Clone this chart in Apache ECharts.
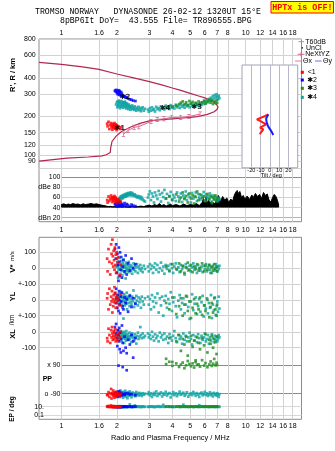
<!DOCTYPE html>
<html>
<head>
<meta charset="utf-8">
<script src="https://cdn.jsdelivr.net/npm/echarts@6/dist/echarts.min.js"></script>
<style>
html,body{margin:0;padding:0;background:#fff}
#c{width:335px;height:451px}
</style>
</head>
<body>
<div id="c"></div>
<script>
// ---- Header text ----
const headerLine1 = 'TROMSO NORWAY   DYNASONDE 26-02-12 1320UT 15\u00B0E';
const headerLine2 = '8pBP6It DoY=  43.555 File= TR896555.BPG';

// ---- Axis ticks ----
const freqTicks = [1, 1.6, 2, 3, 4, 5, 6, 7, 8, 10, 12, 14, 16, 18];
const midFreqTicks = [1, 1.6, 2, 3, 4, 5, 6, 7, 8, 9, 10, 12, 14, 16, 18];
const rangeTicks = [80, 90, 100, 120, 150, 200, 300, 400, 600, 800];
const tiltTicks = [-20, -10, 0, 10, 20];
const vstarTicks = [-100, 0, 100];
const locTicks = [-100, 0];
const ppTicks = [-90, 90];
const epTicks = [0.1, 10];

// ---- Profile curve (MHz, km) ----
const curveFreq = [0.755, 1.0, 1.3, 1.6, 2.0, 2.5, 3.0, 3.5, 4.0, 4.4, 5.0, 5.5, 6.0, 6.4, 6.75, 6.95, 7.08, 7.0, 6.75, 6.2, 5.45, 5.0, 4.4, 4.0, 3.5, 3.0, 2.67, 2.36, 2.12, 1.98, 1.88, 1.86, 1.85, 1.84, 1.75, 1.66, 1.4, 1.07, 0.9, 0.755];
const curveRange = [527, 509, 486, 465, 428, 398, 373, 352, 333, 321, 303, 290, 279, 269, 256, 247, 238, 228, 218, 208, 200, 197, 194, 192, 189, 185, 177, 165, 153, 141, 128, 124, 114, 105, 101, 99, 97, 95, 92.5, 90];

// ---- NeXtYZ real-height trace ----
const nextFreq = [2.17, 2.30, 2.48, 2.63, 3.06, 3.31, 3.60, 3.96, 4.43, 4.92, 5.66];
const nextRange = [146, 156, 165, 167, 183, 190, 192, 197, 197, 200, 209];

// ---- Tilt profiles (deg, km) ----
const tiltXDeg = [-1.7, -5, -14, -10.6, -4, -10.6, -7, -11];
const tiltXRange = [208, 202, 190, 185, 174, 164, 159, 146];
const tiltYDeg = [-1.7, -4, -3.4, -1.7, 2, 3.7];
const tiltYRange = [208, 193, 179, 167, 152, 144];

// ---- Noise level (MHz, dB) ----
const noiseFreq = [1.00,1.03,1.06,1.09,1.12,1.15,1.19,1.23,1.27,1.31,1.35,1.40,1.45,1.50,1.55,1.60,1.65,1.70,
  1.75,1.80,1.85,1.90,1.95,2.00,2.05,2.10,
  2.20,2.30,2.40,2.50,2.60,2.70,2.80,2.90,
  3.00,3.10,3.20,3.30,3.40,3.50,3.60,3.70,3.80,3.90,4.00,
  4.20,4.40,4.60,4.80,5.00,5.20,5.40,5.60,5.80,
  5.90,6.00,6.10,6.20,6.30,6.40,6.50,6.60,6.70,6.80,6.90,7.00,7.10,7.20,
  7.30,7.50,7.70,7.90,8.10,8.30,8.50,8.70,8.90,9.00,
  9.10,9.30,9.50,9.70,9.90,
  10.2,10.5,10.8,11.0,11.3,11.6,11.9,12.2,12.5,12.8,13.1,13.4,13.7,14.0,14.3,14.6,14.9,15.1];
const noiseDb = [46,47.5,45.5,47,46,48,46.5,47,45.5,47.5,46,47,48,46.5,47.5,46,45,44,
  43,42,42.5,41.5,42,41,42,41.5,
  42,41,42.5,41.5,42,43,42,44,
  45,43,46,44,48,44,46,43,45,47,44,
  46,43,47,44,46,45,48,44,50,
  58,46,62,48,55,47,52,46,50,47,53,58,64,60,
  52,62,55,59,50,57,53,66,72,74,
  68,72,60,64,57,
  63,56,65,60,68,62,66,58,70,64,67,55,51,60,66,62,54,45];

// ---- Echoes: [freq MHz, range km, V* m/s, YL km, XL km, PP deg, EP deg, amplitude dB] ----
const redEchoes = [
  [1.77,176,60,10,-40,-95,12,55],[1.78,168,-20,40,-60,-100,9,50],[1.80,182,120,-60,20,-80,15,62],
  [1.82,160,40,70,-20,-110,10,53],[1.84,172,-40,-30,-70,-88,8,58],[1.86,178,150,20,10,-60,20,64],
  [1.87,165,90,-10,-35,-120,11,56],[1.88,170,30,55,30,-92,9,60],[1.89,158,180,-80,-10,-85,13,51],
  [1.90,175,75,5,-50,-98,10,59],[1.91,168,10,-40,-25,-70,7,54],[1.92,163,110,30,5,-105,12,61],
  [1.93,172,50,-15,-45,-90,9,57],[1.94,178,-10,80,-5,-115,14,63],[1.95,166,130,0,-30,-82,10,52],
  [1.96,161,20,45,15,-95,8,58],[1.97,174,85,-50,-60,-100,11,60],[1.98,169,-30,15,-15,-78,9,55],
  [1.99,157,100,-20,-40,-108,12,49],[2.00,171,60,25,-20,-92,10,57],[2.02,164,35,-5,-55,-86,9,53],
  [2.04,168,70,10,-10,-96,11,56],[2.07,160,-45,-35,-35,-102,8,50],[2.10,165,20,35,0,-90,10,52]
];
const blueEchoes = [
  [1.95,318,120,40,30,-85,10,47],[1.97,312,60,-20,-10,-95,9,45],[1.98,322,150,70,50,-100,12,49],
  [2.00,305,-30,10,-40,-80,8,44],[2.01,315,90,-50,-90,-110,11,48],[2.02,298,20,30,10,-92,10,46],
  [2.04,320,-80,-70,-20,86,9,50],[2.05,308,130,0,-60,-98,10,43],[2.06,295,40,55,25,-75,12,47],
  [2.07,316,-50,-30,-110,-105,9,45],[2.08,302,100,-85,-5,-90,10,51],[2.10,290,-10,20,-130,-95,8,44],
  [2.11,310,70,-10,-45,-85,11,48],[2.13,300,-60,45,40,-100,10,46],[2.15,292,10,-40,-70,77,9,43],
  [2.17,285,50,-60,-120,-92,10,45],[2.20,288,-20,15,-30,-97,11,49],[2.23,280,80,-20,-100,-88,10,44],
  [2.26,283,-40,5,-135,57,9,47],[2.30,276,30,-75,-50,-88,10,45],[2.35,272,-15,25,-80,-94,12,42],
  [2.40,270,60,-45,-20,-93,9,46],[2.45,266,0,10,-60,136,10,44],[2.52,264,25,-25,-40,-99,11,43]
];
const greenEchoes = [
  [3.70,236,10,-20,-170,95,10,58],[3.85,240,-15,-60,-40,110,11,62],[4.00,238,25,15,-190,85,9,55],
  [4.20,243,-5,-90,-60,100,10,66],[4.35,250,30,-40,-20,78,12,52],[4.45,256,-20,10,-120,92,9,60],
  [4.55,262,15,-100,-45,105,10,70],[4.65,248,-30,-30,-80,70,11,57],[4.75,258,5,25,-30,88,10,63],
  [4.85,245,35,-70,-150,115,9,50],[4.95,264,-10,-10,-60,96,10,68],[5.05,252,20,-115,-25,82,12,58],
  [5.15,260,-25,-50,-95,100,10,64],[5.25,242,10,5,-55,74,9,48],[5.35,255,-5,-85,-180,108,11,61],
  [5.45,247,25,-25,-35,90,10,72],[5.55,262,-15,-60,-70,94,10,55],[5.65,250,0,15,-110,80,9,66],
  [5.80,258,30,-95,-40,120,11,59],[5.95,266,-20,-35,-85,86,10,62],[6.05,252,15,-70,-15,102,12,53],
  [6.20,262,-10,0,-130,76,10,67],[6.35,270,20,-110,-50,93,9,57],[6.45,256,-30,-45,-75,112,10,63],
  [6.55,266,5,-20,-25,84,11,49],[6.65,250,-15,-80,-100,98,10,60],[6.75,262,25,10,-45,128,9,56],
  [6.85,258,-5,-60,-65,88,10,64],[6.95,268,10,-100,-140,104,11,52],[7.00,255,-20,-30,-30,90,10,58]
];
const cyanEchoes = [
  [1.98,248,10,5,-20,-88,9,50],[2.00,258,-25,20,-5,-95,10,52],[2.01,236,40,-15,-35,-80,11,49],
  [2.02,262,5,30,-15,-102,8,54],[2.03,244,-60,-5,-40,-90,12,51],[2.04,252,20,15,10,-75,9,56],
  [2.05,266,-10,-25,-25,-98,10,53],[2.06,240,65,40,-50,-85,14,58],[2.07,255,-5,0,-10,-110,9,55],
  [2.08,232,25,-20,-30,-92,10,60],[2.09,260,-35,25,-45,-70,8,57],[2.10,247,10,-10,5,-100,11,62],
  [2.11,238,45,50,-20,-88,10,59],[2.12,264,-15,-30,-60,-95,9,61],[2.13,250,15,10,-5,-82,13,63],
  [2.14,242,-45,-50,-35,-105,10,58],[2.15,256,30,20,-25,-90,9,64],[2.16,234,0,-5,-15,-115,11,60],
  [2.17,258,55,-118,-40,-78,10,62],[2.18,245,-20,35,0,-93,8,65],[2.19,253,5,-15,-70,-100,12,61],
  [2.20,237,20,5,-30,-86,10,63],[2.21,261,-30,-35,-10,-96,9,66],[2.22,249,10,25,-45,-72,11,64],
  [2.23,240,-65,-10,-20,-108,10,62],[2.24,255,35,15,-55,-91,13,67],[2.25,231,0,-25,5,-84,9,65],
  [2.26,246,-10,45,-30,-99,10,63],[2.27,252,25,-60,-40,-89,12,68],[2.28,236,-20,0,-15,-118,9,66],
  [2.30,243,15,20,-35,-94,10,64],[2.31,228,-5,-20,-50,-80,11,69],[2.32,248,40,10,-25,-103,9,67],
  [2.34,235,-25,-40,-5,-90,10,65],[2.35,241,5,30,-45,-76,35,68],[2.37,226,20,-15,-30,-97,10,70],
  [2.39,238,-15,5,-65,-87,9,66],[2.40,232,10,-30,-20,-112,12,64],[2.42,244,-35,20,-10,-92,10,69],
  [2.44,229,0,-10,-40,-83,8,67],[2.46,236,30,59,-30,-100,11,65],[2.48,225,-10,-45,-55,-95,10,63],
  [2.50,240,15,10,-15,-88,20,66],[2.52,230,-20,-20,-35,-106,9,64],[2.55,222,5,25,-74,-79,10,62],
  [2.57,234,25,-5,-25,-94,12,60],[2.60,227,-30,-35,-5,-90,10,63],[2.62,238,10,15,-45,-101,9,61],
  [2.65,224,-5,-15,-30,-85,11,59],[2.68,233,20,5,30,-97,10,62],[2.70,220,-15,-50,-20,-91,8,57],
  [2.73,229,0,20,-40,-104,10,60],[2.76,236,-25,-10,-10,-87,12,56],[2.80,222,15,-30,-35,-96,9,54],
  [2.84,230,-5,10,-25,-90,10,52],
  [2.95,226,10,20,-10,-92,10,60],[2.98,218,-20,-30,-35,-80,9,66],[3.02,232,25,5,-20,-100,11,72],
  [3.06,222,-5,-60,-45,-88,10,55],[3.10,236,15,30,0,-110,12,68],[3.14,225,-30,-10,-30,-95,9,62],
  [3.18,229,5,-45,-55,-85,10,50],[3.22,219,30,15,-15,-98,8,70],[3.27,238,-10,-20,-40,-76,11,64],
  [3.32,228,20,40,-25,-104,10,57],[3.37,233,-25,-80,-60,-90,13,73],[3.42,224,0,10,-5,-93,9,66],
  [3.47,240,35,-35,-35,-82,10,52],[3.52,230,-15,20,-20,-107,10,69],[3.57,235,10,-100,-50,-89,28,61],
  [3.62,227,-35,-5,-10,-96,9,75],[3.68,243,20,25,-45,-78,11,58],[3.74,232,-5,-50,-30,-101,10,67],
  [3.80,238,15,5,-70,-91,12,49],[3.86,229,-20,-25,-15,-86,9,63],[3.92,245,25,48,-35,-113,10,71],
  [3.98,234,0,-70,-55,-94,11,56],[4.04,240,-30,-15,-25,-80,10,65],[4.10,231,10,15,5,-99,9,60],
  [4.17,247,30,-40,-40,-88,10,53],[4.24,236,-10,-110,-65,-105,12,70],[4.31,242,5,-5,-20,-92,10,62],
  [4.38,233,-25,30,-45,-77,9,57],[4.45,248,20,-60,-30,-97,11,68],[4.52,238,-5,-20,-75,-90,10,51],
  [4.59,244,10,10,-10,-84,30,64],[4.66,234,-40,-85,-50,-102,9,59],[4.73,250,25,-30,-25,-93,10,72],
  [4.80,240,0,20,-60,-81,11,55],[4.88,246,-15,-45,-35,-108,10,66],[4.96,236,15,-120,-5,-95,9,61],
  [5.04,252,-20,-10,-45,-87,12,50],[5.12,242,5,35,-80,-99,10,69],[5.20,248,30,-65,-20,-79,9,58],
  [5.28,238,-10,-25,-55,-91,10,63],[5.36,254,10,15,-30,-103,11,70],[5.44,244,-30,-90,-65,-86,10,53],
  [5.52,250,20,-40,-15,-96,9,67],[5.60,240,0,5,-40,-110,22,60],[5.68,256,-15,-75,-70,-89,10,56],
  [5.76,246,10,-15,-25,-83,11,65],[5.84,258,-25,25,-50,-100,10,62],[5.92,250,15,-105,-35,-92,9,71],
  [6.00,262,-5,-35,-10,-78,10,54],[6.08,254,25,-55,-60,-97,12,66],[6.16,268,-20,10,-45,-88,10,59],
  [6.24,258,5,-85,-20,-104,9,63],[6.32,274,20,-20,-75,-94,10,57],[6.40,264,-10,-50,-35,-81,11,68],
  [6.48,280,10,30,-55,-99,10,61],[6.56,270,-30,-115,-15,-90,9,52],[6.64,288,15,-30,-40,-107,10,64],
  [6.72,276,0,-65,-65,-85,12,58],[6.80,294,-15,15,-25,-96,10,62],[6.88,282,25,-95,-50,-91,9,55],
  [6.96,298,5,-40,-30,-102,10,60],[7.02,286,-20,-10,-60,-87,11,57],[7.08,272,10,-75,-45,-95,10,53],
  [7.14,290,-5,20,-20,-110,9,59],[7.20,278,15,-55,-35,-93,10,56]
];

// ---- Cluster centroids (MHz, km, id) ----
const clusterFreq = [2.07, 2.21, 5.42, 3.65];
const clusterRange = [163, 281, 238, 233];
const clusterId = ['1', '2', '3', '4'];

// ---- Layout ----
const FONT = '"Liberation Sans", "DejaVu Sans", sans-serif';
const FMIN = 0.755, FMAX = 20.1;
const FRAME_L = 39, FRAME_W = 262.5;
const PX_PER_DEC = FRAME_W / Math.log10(FMAX / FMIN);
const INNER_L = 61.5;
const FMIN_INNER = FMIN * Math.pow(10, (INNER_L - FRAME_L) / PX_PER_DEC);
const RANGE_TOP = 39, RANGE_PX_PER_DEC = 128.8;
const TILT_TOP = 65;
const TILT_RMAX = 800 / Math.pow(10, (TILT_TOP - RANGE_TOP) / RANGE_PX_PER_DEC);
const TILT_H = RANGE_PX_PER_DEC * Math.log10(TILT_RMAX / 80);
const NOISE_BASE = 41;
const DOT = 2.7;

const GRID_C = '#d2d2d2';
const FRAME_C = '#8c8c8c';

function freqLabel(v) {
  const t = midFreqTicks.find(x => Math.abs(x - v) < 1e-6 * x);
  return t === undefined ? '' : String(t);
}
function hiddenFreq(gridIndex, min) {
  return {gridIndex, type: 'log', logBase: 10, min: min, max: FMAX, show: false};
}
function labelStyle(extra) {
  return Object.assign({fontSize: 7, color: '#000', fontFamily: FONT}, extra || {});
}

const grids = [
  {left: FRAME_L, top: 39, width: FRAME_W, height: 182.7, show: true, borderColor: FRAME_C, borderWidth: 1},
  {left: FRAME_L, top: RANGE_TOP, width: FRAME_W, height: RANGE_PX_PER_DEC},
  {left: INNER_L, top: 177.3, width: 240, height: 40.4},
  {left: 242, top: TILT_TOP, width: 55.7, height: TILT_H, show: true, backgroundColor: '#fff', borderColor: '#a4a4b8', borderWidth: 1, z: 1},
  {left: FRAME_L, top: 237.3, width: FRAME_W, height: 182, show: true, borderColor: FRAME_C, borderWidth: 1},
  {left: FRAME_L, top: 252.3, width: FRAME_W, height: 31.7},
  {left: FRAME_L, top: 284, width: FRAME_W, height: 31.7},
  {left: FRAME_L, top: 316, width: FRAME_W, height: 31.7},
  {left: INNER_L, top: 355.4, width: 240, height: 47.9},
  {left: FRAME_L, top: 398.4, width: FRAME_W, height: 20.75}
].map(g => Object.assign({containLabel: false, outerBoundsMode: 'none'}, g));

const xAxes = [
  {gridIndex: 0, type: 'log', logBase: 10, min: FMIN, max: FMAX, position: 'top',
   axisLine: {show: false}, axisTick: {show: false, customValues: freqTicks},
   axisLabel: labelStyle({customValues: freqTicks, margin: 2.2, formatter: freqLabel}),
   splitLine: {show: true, lineStyle: {color: GRID_C, width: 1}}},
  {gridIndex: 0, type: 'log', logBase: 10, min: FMIN, max: FMAX, position: 'bottom',
   axisLine: {show: false}, axisTick: {show: false, customValues: midFreqTicks},
   axisLabel: labelStyle({customValues: midFreqTicks, margin: 4.8, formatter: freqLabel}),
   splitLine: {show: false}},
  hiddenFreq(1, FMIN),
  hiddenFreq(2, FMIN_INNER),
  {gridIndex: 3, type: 'value', min: -30, max: 30, z: 2,
   axisLine: {show: false}, axisTick: {show: false, customValues: tiltTicks},
   axisLabel: labelStyle({customValues: tiltTicks, margin: 0, fontSize: 5.5, formatter: v => String(v)}),
   splitLine: {show: true, lineStyle: {color: '#b8b8cc', width: 1}}},
  {gridIndex: 4, type: 'log', logBase: 10, min: FMIN, max: FMAX, position: 'bottom',
   axisLine: {show: false}, axisTick: {show: false, customValues: freqTicks},
   axisLabel: labelStyle({customValues: freqTicks, margin: 2.9, formatter: freqLabel}),
   splitLine: {show: true, lineStyle: {color: GRID_C, width: 1}}},
  hiddenFreq(5, FMIN),
  hiddenFreq(6, FMIN),
  hiddenFreq(7, FMIN),
  hiddenFreq(8, FMIN_INNER),
  hiddenFreq(9, FMIN)
];

const yAxes = [
  {gridIndex: 0, type: 'value', show: false},
  {gridIndex: 1, type: 'log', logBase: 10, min: 80, max: 800,
   axisLine: {show: false}, axisTick: {show: false, customValues: rangeTicks},
   axisLabel: labelStyle({customValues: rangeTicks, margin: 3.3, formatter: v => String(Math.round(v))}),
   splitLine: {show: true, lineStyle: {color: GRID_C, width: 1}}},
  {gridIndex: 2, type: 'value', min: 20, max: 100, interval: 20,
   axisLine: {show: false}, axisTick: {show: false},
   axisLabel: labelStyle({margin: 1, formatter: v => v === 20 ? 'dBn 20' : (v === 80 ? 'dBe 80' : String(v))}),
   splitLine: {show: true, lineStyle: {color: ['#aeaede', GRID_C, GRID_C, GRID_C, '#8c8c8c'], width: 1}}},
  {gridIndex: 3, type: 'log', logBase: 10, min: 80, max: TILT_RMAX, show: false},
  {gridIndex: 4, type: 'value', show: false},
  {gridIndex: 5, type: 'value', min: -100, max: 100,
   axisLine: {show: false}, axisTick: {show: false, customValues: vstarTicks},
   axisLabel: labelStyle({customValues: vstarTicks, margin: 3, formatter: v => v === -100 ? '+-100' : String(v)}),
   splitLine: {show: true, lineStyle: {color: GRID_C, width: 1}}},
  {gridIndex: 6, type: 'value', min: -100, max: 100,
   axisLine: {show: false}, axisTick: {show: false, customValues: locTicks},
   axisLabel: labelStyle({customValues: locTicks, margin: 3, formatter: v => v === -100 ? '+-100' : String(v)}),
   splitLine: {show: true, lineStyle: {color: GRID_C, width: 1}}},
  {gridIndex: 7, type: 'value', min: -100, max: 100,
   axisLine: {show: false}, axisTick: {show: false, customValues: locTicks},
   axisLabel: labelStyle({customValues: locTicks, margin: 3, formatter: v => String(v)}),
   splitLine: {show: true, lineStyle: {color: GRID_C, width: 1}}},
  {gridIndex: 8, type: 'value', min: -150, max: 150,
   axisLine: {show: false}, axisTick: {show: false, customValues: ppTicks},
   axisLabel: labelStyle({customValues: ppTicks, margin: 1, formatter: v => v > 0 ? 'x 90' : 'o -90'}),
   splitLine: {show: true, lineStyle: {color: '#8c8c8c', width: 1}}},
  {gridIndex: 9, type: 'log', logBase: 10, min: 0.01, max: 1000, offset: -7,
   axisLine: {show: false}, axisTick: {show: false, customValues: epTicks},
   axisLabel: labelStyle({customValues: epTicks, margin: 2, formatter: v => v > 1 ? '10.' : '0.1'}),
   splitLine: {show: true, lineStyle: {color: '#d8d8d8', width: 1}}}
];

const series = [];

// Profile curve and NeXtYZ trace
series.push({type: 'line', xAxisIndex: 2, yAxisIndex: 1, silent: true, clip: false, z: 3,
  data: curveFreq.map((f, i) => [f, curveRange[i]]), symbol: 'none',
  lineStyle: {color: '#b0284e', width: 1.2}});
series.push({type: 'line', xAxisIndex: 2, yAxisIndex: 1, silent: true, clip: false, z: 4,
  data: nextFreq.map((f, i) => [f, nextRange[i]]),
  symbol: 'path://M0,0H5V1H3V6H5V7H0V6H2V1H0Z', symbolSize: [3.5, 5], showSymbol: true,
  itemStyle: {color: '#e0628c'}, lineStyle: {color: '#e0628c', width: 1}});

// Noise band in the amplitude strip: filled between the noise level and its floor
series.push({type: 'custom', xAxisIndex: 3, yAxisIndex: 2, silent: true, z: 2,
  data: noiseFreq.map((f, i) => [f, noiseDb[i]]),
  renderItem: function (params, api) {
    if (params.dataIndex !== 0) return null;
    const top = noiseFreq.map((f, i) => api.coord([f, noiseDb[i]]));
    const floor = noiseFreq.slice().reverse().map(f => api.coord([f, NOISE_BASE]));
    return {type: 'polygon', shape: {points: top.concat(floor)},
      style: {fill: '#000', stroke: '#000', lineWidth: 1}};
  }});

// Echo scatter in every panel
const echoSets = [
  {rows: cyanEchoes, color: '#0ea3a3'},
  {rows: greenEchoes, color: '#1f8c1f'},
  {rows: blueEchoes, color: '#0000ff'},
  {rows: redEchoes, color: '#ff0000'}
];
const panels = [
  {col: 1, x: 2, y: 1},
  {col: 7, x: 3, y: 2},
  {col: 2, x: 6, y: 5},
  {col: 3, x: 7, y: 6},
  {col: 4, x: 8, y: 7},
  {col: 5, x: 9, y: 8},
  {col: 6, x: 10, y: 9}
];
echoSets.forEach((set, k) => {
  panels.forEach(p => {
    series.push({type: 'scatter', xAxisIndex: p.x, yAxisIndex: p.y, silent: true, clip: false, z: 5 + k,
      symbol: 'rect', symbolSize: DOT, itemStyle: {color: set.color},
      data: set.rows.map(r => [r[0], r[p.col]])});
  });
});

// Cluster centroid marks
series.push({type: 'scatter', xAxisIndex: 2, yAxisIndex: 1, silent: true, clip: false, z: 12,
  symbol: 'circle', symbolSize: 0.1,
  data: clusterFreq.map((f, i) => ({value: [f, clusterRange[i]], name: clusterId[i]})),
  label: {show: true, position: 'inside', formatter: p => '\u2731' + p.name,
    fontSize: 7, fontWeight: 'bold', color: '#000', fontFamily: '"DejaVu Sans", sans-serif'}});

// Tilt profiles
series.push({type: 'line', xAxisIndex: 4, yAxisIndex: 3, silent: true, z: 6,
  data: tiltXDeg.map((t, i) => [t, tiltXRange[i]]), symbol: 'none',
  lineStyle: {color: '#ff1a1a', width: 2}});
series.push({type: 'line', xAxisIndex: 4, yAxisIndex: 3, silent: true, z: 6,
  data: tiltYDeg.map((t, i) => [t, tiltYRange[i]]), symbol: 'none',
  lineStyle: {color: '#1a1aff', width: 2}});

// ---- Text, titles and key ----
const ROT = Math.PI / 2;
function text(x, y, str, font) {
  return {type: 'text', x: x, y: y, silent: true, z: 20,
    style: {text: str, font: font, fill: '#000', align: 'left', verticalAlign: 'middle',
      textAlign: 'left', textVerticalAlign: 'middle'}};
}
function ctext(x, y, str, font, rot) {
  return {type: 'text', x: x, y: y, rotation: rot || 0, silent: true, z: 20,
    style: {text: str, font: font, fill: '#000', align: 'center', verticalAlign: 'middle',
      textAlign: 'center', textVerticalAlign: 'middle'}};
}
const monoFont = '8.2px "Liberation Mono", "DejaVu Sans Mono", monospace';
const keyFont = '7px ' + FONT;

const graphic = [
  text(35, 12.2, headerLine1, monoFont),
  text(60, 20.6, headerLine2, monoFont),
  {type: 'rect', silent: true, z: 20, shape: {x: 271, y: 1.5, width: 62.5, height: 11.5},
   style: {fill: '#ffff00', stroke: '#ff0000', lineWidth: 1}},
  {type: 'text', x: 302.3, y: 7.4, silent: true, z: 21,
   style: {text: 'HPTx is OFF!', font: 'bold 8.4px "Liberation Mono", monospace', fill: '#ff0000',
     align: 'center', verticalAlign: 'middle', textAlign: 'center', textVerticalAlign: 'middle'}},

  ctext(12.5, 75, "R', R / km", 'bold 7.5px ' + FONT, ROT),
  {type: 'text', x: 12.5, y: 262, rotation: ROT, silent: true, z: 20,
   style: {text: '{a|V*} {b|m/s}', align: 'center', verticalAlign: 'middle', textAlign: 'center', textVerticalAlign: 'middle',
     rich: {a: {font: 'bold 8px ' + FONT, fill: '#000'}, b: {font: '6px ' + FONT, fill: '#000'}}}},
  ctext(12.5, 296.5, 'YL', 'bold 7.5px ' + FONT, ROT),
  ctext(12.5, 320, '/km', '6.5px ' + FONT, ROT),
  ctext(12.5, 334, 'XL', 'bold 7.5px ' + FONT, ROT),
  text(42.7, 379, 'PP', 'bold 7px ' + FONT),
  ctext(12.5, 409, 'EP / deg', 'bold 6.5px ' + FONT, ROT),
  ctext(170.25, 438.3, 'Radio and Plasma Frequency / MHz', '7.4px ' + FONT),
  ctext(271.3, 175.4, 'Tilt / deg', '5.5px ' + FONT),

  // key
  {type: 'line', silent: true, z: 20, shape: {x1: 298.5, y1: 41.7, x2: 304, y2: 41.7}, style: {stroke: '#9a9a9a', lineWidth: 1}},
  text(305.3, 41.7, 'T60dB', keyFont),
  {type: 'rect', silent: true, z: 20, shape: {x: 301.8, y: 47.2, width: 1.2, height: 1.2}, style: {fill: '#000'}},
  text(306, 47.7, 'UnCl', keyFont),
  {type: 'line', silent: true, z: 20, shape: {x1: 297.5, y1: 54.3, x2: 304.5, y2: 54.3}, style: {stroke: '#e0628c', lineWidth: 1}},
  {type: 'line', silent: true, z: 20, shape: {x1: 301, y1: 52.3, x2: 301, y2: 56.3}, style: {stroke: '#e0628c', lineWidth: 1}},
  text(305.3, 54.3, 'NeXtYZ', keyFont),
  {type: 'line', silent: true, z: 20, shape: {x1: 295, y1: 61, x2: 301.5, y2: 61}, style: {stroke: '#e8788f', lineWidth: 1}},
  text(303, 61, '\u0398x', keyFont),
  {type: 'line', silent: true, z: 20, shape: {x1: 315, y1: 61, x2: 321.5, y2: 61}, style: {stroke: '#6a6aff', lineWidth: 1}},
  text(323, 61, '\u0398y', keyFont),
  {type: 'rect', silent: true, z: 20, shape: {x: 300.8, y: 70.8, width: 3, height: 3}, style: {fill: '#ff0000'}},
  text(307.7, 72.3, '<1', keyFont),
  {type: 'rect', silent: true, z: 20, shape: {x: 300.8, y: 78.5, width: 3, height: 3}, style: {fill: '#0000ff'}},
  text(307.2, 80, '\u27312', keyFont),
  {type: 'rect', silent: true, z: 20, shape: {x: 300.8, y: 86.8, width: 3, height: 3}, style: {fill: '#1f8c1f'}},
  text(307.2, 88.3, '\u27313', keyFont),
  {type: 'rect', silent: true, z: 20, shape: {x: 300.8, y: 95.8, width: 3, height: 3}, style: {fill: '#0ea3a3'}},
  text(307.2, 97.3, '\u27314', keyFont)
];

const chart = echarts.init(document.getElementById('c'), null, {renderer: 'canvas', width: 335, height: 451});
chart.setOption({
  animation: false,
  backgroundColor: '#fff',
  textStyle: {fontFamily: FONT},
  grid: grids,
  xAxis: xAxes,
  yAxis: yAxes,
  series: series,
  graphic: graphic
});
</script>
</body>
</html>
